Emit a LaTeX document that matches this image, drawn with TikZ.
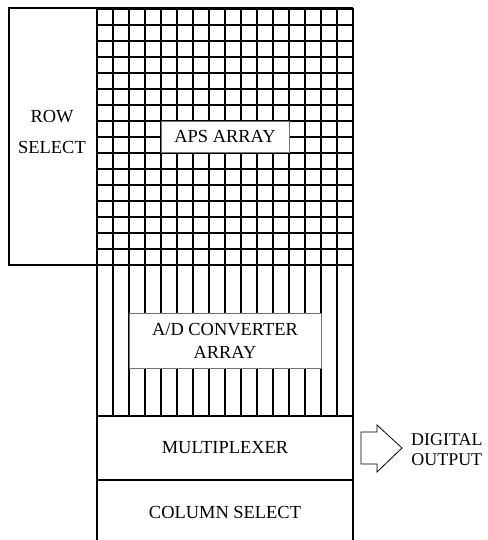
\documentclass[tikz,border=0pt]{standalone}
\usepackage{fontspec}
\setmainfont{Liberation Serif}
\usetikzlibrary{positioning}

\begin{document}
\begin{tikzpicture}[
      x=1bp, y=-1bp,
      gridline/.style={line width=1.5bp},
      frame/.style={line width=2bp},
      label/.style={fill=white, draw=black!55, line width=0.6bp, inner sep=0pt, align=center},
      txt/.style={align=center, font=\fontsize{18.5}{23}\selectfont}
    ]
    \useasboundingbox (0,0) rectangle (488,540);

    % pixel array grid and converter columns
    \foreach \i in {0,...,16} {
      \draw[gridline] (97+16*\i,9) -- (97+16*\i,416);
      \draw[gridline] (97,9+16*\i) -- (353,9+16*\i);
    }

    % outer frame
    \draw[frame] (8.5,8.5) rectangle (97,264.5);
    \draw[frame] (97,8.5) -- (353,8.5);
    \draw[frame] (97,8.5) -- (97,540);
    \draw[frame] (353,8.5) -- (353,540);
    \draw[frame] (8.5,264.5) -- (353,264.5);
    \draw[frame] (97,416) -- (353,416);
    \draw[frame] (97,480) -- (353,480);

    \node[txt] (rowsel) at (52,132) {ROW\\[8pt]SELECT};
    \node[label, minimum width=128bp, minimum height=31bp] (apsbox) at (225,136.5) {};
    \node[txt] (aps) at (apsbox) {APS ARRAY};
    \node[label, minimum width=192bp, minimum height=55bp] (adcbox) at (225,340.5) {};
    \node[txt] (adc) at (adcbox) {A/D CONVERTER\\ARRAY};
    \node[txt] (mux) at (225,448) {MULTIPLEXER};
    \node[txt] (colsel) at (225,512) {COLUMN SELECT};

    % digital output arrow
    \draw[line width=0.8bp] (361,432) -- (377,432) -- (377,425) -- (402,448)
      -- (377,472) -- (377,464) -- (361,464) -- cycle;
    \node[txt, font=\fontsize{18}{20}\selectfont, anchor=west, inner sep=0pt] (digout) at (411,450) {DIGITAL\\OUTPUT};
  \end{tikzpicture}
\end{document}
